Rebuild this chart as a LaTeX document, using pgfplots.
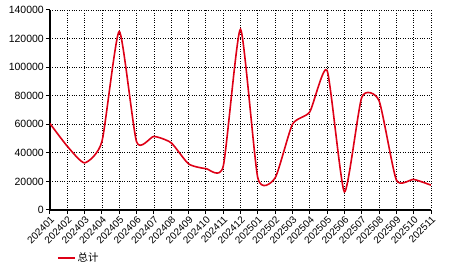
\documentclass[border=0pt]{standalone}
\usepackage{pgfplots}
\pgfplotsset{compat=1.18}
\usepackage{fontspec}
\setmainfont{Liberation Sans}
\newfontfamily\cjk{Noto Sans CJK SC}
\definecolor{linered}{RGB}{222,0,22}
\begin{document}
\begin{tikzpicture}
\begin{axis}[name=ax, width=381pt, height=200pt, scale only axis,
  xmin=0, xmax=22, ymin=0, ymax=140000,
  axis x line*=bottom, axis y line*=left,
  axis line style={-, line width=1.2pt, black},
  xtick={0,...,22},
  xticklabels={202401,202402,202403,202404,202405,202406,202407,202408,202409,202410,202411,202412,202501,202502,202503,202504,202505,202506,202507,202508,202509,202510,202511},
  x tick label style={rotate=45, anchor=north east, font=\fontsize{10}{11}\selectfont, inner sep=1pt},
  ytick={0,20000,40000,60000,80000,100000,120000,140000},
  yticklabels={0,20000,40000,60000,80000,100000,120000,140000},
  scaled y ticks=false,
  y tick label style={font=\fontsize{10.5}{12}\selectfont, inner sep=2pt},
  grid=major, major grid style={black, dotted, line width=0.8pt},
  tick align=outside, major tick length=4pt, tick style={black, line width=1pt},
  legend style={at={(0.01,-0.24)}, anchor=west, draw=none, fill=none, font=\fontsize{10.5}{12}\selectfont},
  legend cell align=left,
]
\addplot[linered, line width=1.6pt, smooth, tension=0.35] coordinates {
(0,60500) (1,44600) (2,33000) (3,48000) (4,125000) (5,47700) (6,51500) (7,47000)
(8,32300) (9,29000) (10,30500) (11,126500) (12,22500) (13,22500) (14,60000)
(15,68700) (16,97700) (17,12700) (18,78800) (19,76500) (20,21000) (21,21400) (22,17400)
};
\addlegendentry{\cjk 总计}
\end{axis}
\pgfresetboundingbox
\useasboundingbox ([xshift=-50pt,yshift=-62pt]ax.south west) rectangle ([xshift=35pt,yshift=10pt]ax.north east);
\end{tikzpicture}
\end{document}
